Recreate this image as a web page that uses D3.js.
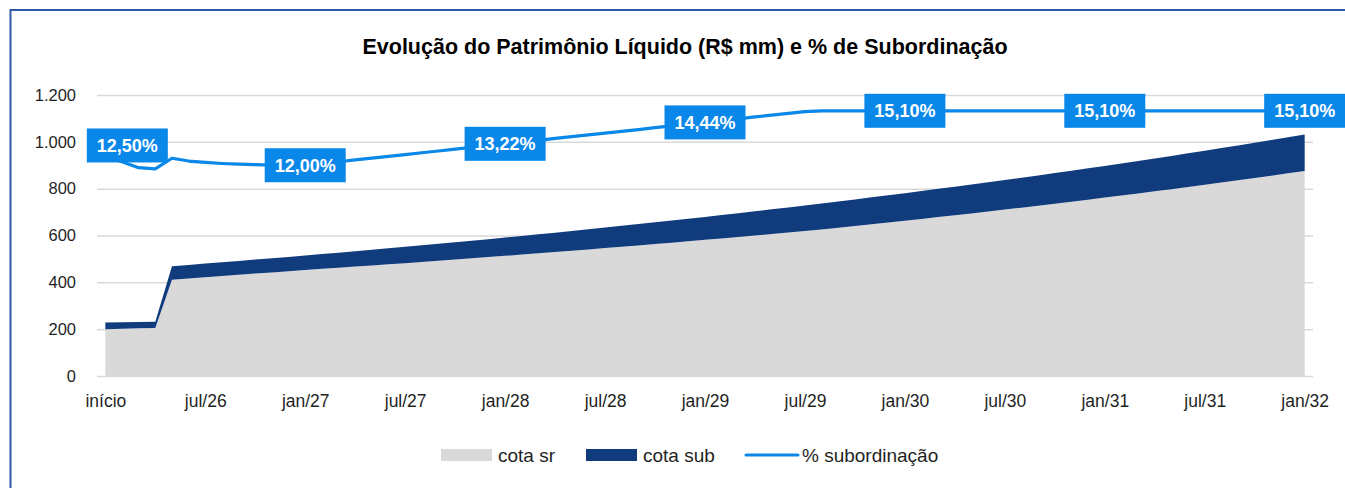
<!DOCTYPE html>
<html>
<head>
<meta charset="utf-8">
<script src="https://cdn.jsdelivr.net/npm/d3@7"></script>
<style>
  html, body { margin: 0; padding: 0; background: #fff; }
  svg { display: block; font-family: "Liberation Sans", Arial, sans-serif; }
</style>
</head>
<body>
<svg id="chart" width="1345" height="488"></svg>
<script>
const chartTitle = "Evolução do Patrimônio Líquido (R$ mm) e % de Subordinação";

const categories = [
  "início","fev/26","mar/26","abr/26","mai/26","jun/26","jul/26","ago/26","set/26","out/26","nov/26","dez/26",
  "jan/27","fev/27","mar/27","abr/27","mai/27","jun/27","jul/27","ago/27","set/27","out/27","nov/27","dez/27",
  "jan/28","fev/28","mar/28","abr/28","mai/28","jun/28","jul/28","ago/28","set/28","out/28","nov/28","dez/28",
  "jan/29","fev/29","mar/29","abr/29","mai/29","jun/29","jul/29","ago/29","set/29","out/29","nov/29","dez/29",
  "jan/30","fev/30","mar/30","abr/30","mai/30","jun/30","jul/30","ago/30","set/30","out/30","nov/30","dez/30",
  "jan/31","fev/31","mar/31","abr/31","mai/31","jun/31","jul/31","ago/31","set/31","out/31","nov/31","dez/31",
  "jan/32"
];

const tickLabels = ["início","jul/26","jan/27","jul/27","jan/28","jul/28","jan/29","jul/29","jan/30","jul/30","jan/31","jul/31","jan/32"];

const cotaSr = [
  200.0, 201.8, 203.6, 204.8, 410.8, 416.4, 421.6, 426.8, 432.0, 437.2, 442.4, 447.6,
  452.8, 457.5, 462.4, 467.1, 472.0, 477.0, 482.0, 487.1, 492.2, 497.3, 502.5, 507.7,
  513.0, 518.4, 523.9, 529.4, 534.9, 540.5, 546.1, 551.9, 557.7, 563.5, 569.4, 575.3,
  581.4, 587.5, 593.6, 599.7, 606.0, 612.4, 618.8, 625.6, 632.9, 640.3, 647.8, 655.3,
  663.0, 670.7, 678.5, 686.4, 694.4, 702.5, 710.6, 718.9, 727.3, 735.8, 744.4, 753.1,
  761.8, 770.7, 779.7, 788.8, 798.0, 807.3, 816.7, 826.2, 835.8, 845.6, 855.5, 865.4,
  875.5
];

const cotaSub = [
  28.6, 28.0, 27.4, 27.4, 58.2, 58.1, 58.4, 58.8, 59.3, 59.8, 60.4, 61.0,
  61.7, 63.0, 64.2, 65.6, 66.9, 68.2, 69.6, 70.9, 72.3, 73.8, 75.2, 76.7,
  78.2, 79.7, 81.2, 82.8, 84.4, 86.0, 87.7, 89.3, 91.0, 92.8, 94.5, 96.3,
  98.1, 99.9, 101.8, 103.8, 105.7, 107.6, 109.6, 111.3, 112.6, 113.9, 115.2, 116.6,
  117.9, 119.3, 120.7, 122.1, 123.5, 124.9, 126.4, 127.9, 129.4, 130.9, 132.4, 133.9,
  135.5, 137.1, 138.7, 140.3, 141.9, 143.6, 145.3, 147.0, 148.7, 150.4, 152.1, 153.9,
  155.7
];

const pctSub = [
  12.50, 12.20, 11.86, 11.79, 12.40, 12.24, 12.16, 12.10, 12.06, 12.03, 12.01, 12.00,
  12.00, 12.10, 12.20, 12.31, 12.41, 12.51, 12.61, 12.71, 12.81, 12.92, 13.02, 13.12,
  13.22, 13.32, 13.42, 13.53, 13.63, 13.73, 13.83, 13.93, 14.03, 14.14, 14.24, 14.34,
  14.44, 14.54, 14.64, 14.75, 14.85, 14.95, 15.05, 15.10, 15.10, 15.10, 15.10, 15.10,
  15.10, 15.10, 15.10, 15.10, 15.10, 15.10, 15.10, 15.10, 15.10, 15.10, 15.10, 15.10,
  15.10, 15.10, 15.10, 15.10, 15.10, 15.10, 15.10, 15.10, 15.10, 15.10, 15.10, 15.10,
  15.10
];

const labelledCategories = ["início","jan/27","jan/28","jan/29","jan/30","jan/31","jan/32"];
const yTicks = [0, 200, 400, 600, 800, 1000, 1200];
const seriesNames = ["cota sr", "cota sub", "% subordinação"];

// ---- layout & styles ----
const W = 1345, H = 488;
const plot = { left: 97, right: 1313, top: 95, bottom: 376 };
const colSr = "#D9D9D9", colSub = "#103C7E", colPct = "#0A88EA";
const txtCol = "#1F1F1F";

const svg = d3.select("#chart");

// border
svg.append("rect")
  .attr("x", 10.5).attr("y", 10).attr("width", W).attr("height", H)
  .attr("fill", "none").attr("stroke", "#2E5AA8").attr("stroke-width", 2);

const x = d3.scalePoint().domain(categories).range([plot.left, plot.right]).padding(0.5);
const y = d3.scaleLinear().domain([0, 1200]).range([plot.bottom, plot.top]);
const y2 = d3.scaleLinear().domain([0, 16]).range([plot.bottom, plot.top]);

// title
svg.append("text")
  .attr("x", 685).attr("y", 54)
  .attr("text-anchor", "middle")
  .attr("font-size", 21.5).attr("font-weight", "bold").attr("fill", "#000")
  .text(chartTitle);

// gridlines
const ptBR = d3.formatLocale({decimal: ",", thousands: ".", grouping: [3], currency: ["R$", ""]});
const yAxis = d3.axisLeft(y).tickValues(yTicks)
  .tickSize(-(plot.right - plot.left))
  .tickPadding(21)
  .tickFormat(ptBR.format(","));
const gy = svg.append("g").attr("transform", `translate(${plot.left},0)`).call(yAxis);
gy.select(".domain").remove();
gy.selectAll(".tick line").attr("stroke", "#D9D9D9").attr("stroke-width", 1.5);
gy.selectAll(".tick text").attr("font-size", 16.5).attr("fill", txtCol)
  .attr("font-family", "'Liberation Sans', Arial, sans-serif");

// data table
const rows = categories.map((c, i) => ({ c, sr: cotaSr[i], sub: cotaSub[i], pct: pctSub[i] }));

// areas
svg.append("path").datum(rows)
  .attr("fill", colSr)
  .attr("d", d3.area().x(d => x(d.c)).y0(y(0)).y1(d => y(d.sr)));
svg.append("path").datum(rows)
  .attr("fill", colSub)
  .attr("d", d3.area().x(d => x(d.c)).y0(d => y(d.sr)).y1(d => y(d.sr + d.sub)));

// x axis
const xAxis = d3.axisBottom(x).tickValues(tickLabels).tickSize(0).tickPadding(14);
const gx = svg.append("g").attr("transform", `translate(0,${plot.bottom + 5})`).call(xAxis);
gx.select(".domain").remove();
gx.selectAll(".tick text").attr("font-size", 17.5).attr("fill", txtCol)
  .attr("font-family", "'Liberation Sans', Arial, sans-serif");

// pct line
svg.append("path").datum(rows)
  .attr("fill", "none").attr("stroke", colPct).attr("stroke-width", 3.2)
  .attr("stroke-linejoin", "round")
  .attr("d", d3.line().x(d => x(d.c)).y(d => y2(d.pct)));

// labels
const fmtPct = v => v.toFixed(2).replace(".", ",") + "%";
const lbl = svg.append("g");
rows.filter(d => labelledCategories.includes(d.c)).forEach((d, k) => {
  const cx = x(d.c) + (k === 0 ? 22 : 0);
  const cy = y2(d.pct) + (k === 0 ? -11 : 0);
  const g = lbl.append("g").attr("transform", `translate(${cx},${cy})`);
  const bw = 81, bh = 34;
  g.append("rect").attr("x", -bw / 2).attr("y", -bh / 2).attr("width", bw).attr("height", bh)
    .attr("fill", colPct);
  g.append("text").attr("text-anchor", "middle").attr("dy", "0.36em")
    .attr("font-size", 18).attr("font-weight", "bold").attr("fill", "#fff")
    .text(fmtPct(d.pct));
});

// legend
const leg = svg.append("g").attr("font-size", 19).attr("fill", txtCol);
const legItems = [
  { name: seriesNames[0], type: "rect", color: colSr, x: 441 },
  { name: seriesNames[1], type: "rect", color: colSub, x: 586 },
  { name: seriesNames[2], type: "line", color: colPct, x: 745 }
];
legItems.forEach(it => {
  if (it.type === "rect") {
    leg.append("rect").attr("x", it.x).attr("y", 449).attr("width", 51).attr("height", 12).attr("fill", it.color);
  } else {
    leg.append("line").attr("x1", it.x + 1).attr("x2", it.x + 53).attr("y1", 455).attr("y2", 455)
      .attr("stroke", it.color).attr("stroke-width", 3).attr("stroke-linecap", "round");
  }
  leg.append("text").attr("x", it.x + 57).attr("y", 461.5).text(it.name);
});
</script>
</body>
</html>
